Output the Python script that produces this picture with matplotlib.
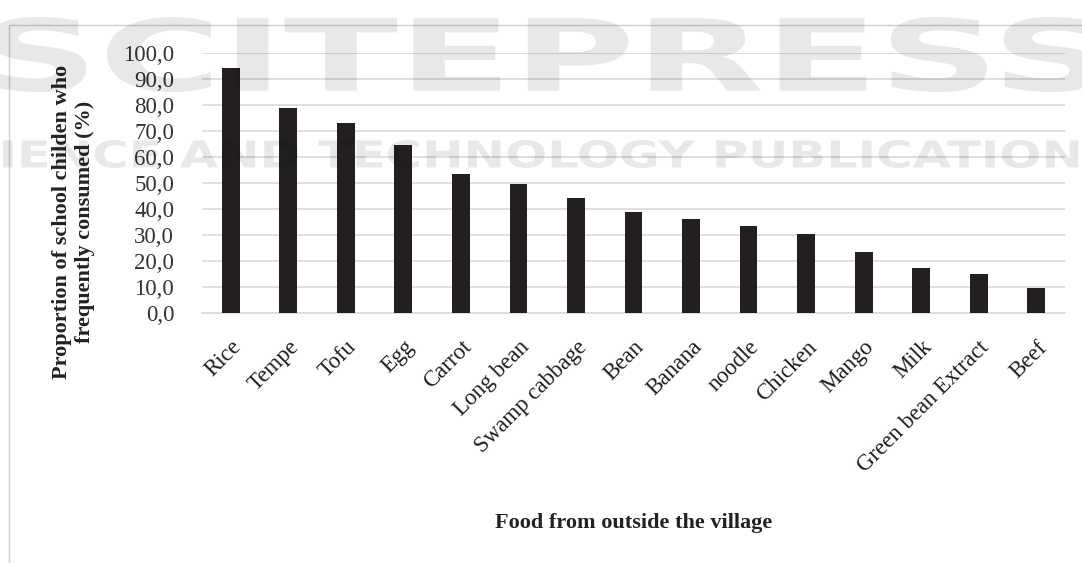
import matplotlib
matplotlib.use("Agg")
import matplotlib.pyplot as plt
from matplotlib.patches import Rectangle, PathPatch
from matplotlib.textpath import TextPath
from matplotlib.font_manager import FontProperties
from matplotlib.transforms import Affine2D, IdentityTransform
from matplotlib.ticker import FuncFormatter

# data
foods = ["Rice", "Tempe", "Tofu", "Egg", "Carrot", "Long bean", "Swamp cabbage",
         "Bean", "Banana", "noodle", "Chicken", "Mango", "Milk",
         "Green bean Extract", "Beef"]
proportion = [94.2, 79.0, 73.0, 64.7, 53.7, 49.5, 44.3, 39.0, 36.0, 33.4,
              30.5, 23.6, 17.2, 15.1, 9.7]
y_ticks = list(range(0, 101, 10))

plt.rcParams['font.family'] = ['Liberation Serif', 'DejaVu Serif']

fig = plt.figure(figsize=(10.82, 5.63), dpi=100)
ax = fig.add_axes([0.1867, 0.444, 0.7976, 0.4615])
ax.set_facecolor('none')

x = range(len(foods))
ax.bar(x, proportion, width=0.31, color='#231f20', zorder=3)

ax.set_xlim(-0.5, len(foods) - 0.5)
ax.set_ylim(0, 100)
ax.set_yticks(y_ticks)
ax.yaxis.set_major_formatter(FuncFormatter(lambda v, p: "{0:.1f}".format(v).replace('.', ',')))
ax.grid(axis='y', color='#d9d9d9', linewidth=1.2, zorder=0)
for s in ['top', 'right', 'left']:
    ax.spines[s].set_visible(False)
ax.spines['bottom'].set_color('#d9d9d9')
ax.spines['bottom'].set_linewidth(1.2)

ax.tick_params(axis='y', length=0, pad=20, labelsize=16.5, labelcolor='#333333')
ax.tick_params(axis='x', length=0, pad=17)
ax.set_xticks(list(x))
ax.set_xticklabels(foods, rotation=45, ha='right', rotation_mode='anchor',
                   fontsize=16.5, color='#1e1e1e')

ax.set_ylabel("Proportion of school childen who\nfrequently consumed (%)",
              fontsize=16, fontweight='bold', color='#222222', linespacing=1.2)
ax.yaxis.label.set_va('center')
ax.yaxis.label.set_ha('center')
ax.yaxis.set_label_coords(-0.149, 0.35)
ax.set_xlabel("Food from outside the village", fontsize=16, fontweight='bold',
              color='#222222')
ax.xaxis.label.set_va('center')
ax.xaxis.set_label_coords(0.5, -0.81)

# chart border
fig.patches.append(Rectangle((0.008, -0.1), 1.2, 1.055, transform=fig.transFigure,
                             fill=False, edgecolor='#cfcfcf', linewidth=1.0))


# publisher watermark, stretched over the top of the figure
def watermark(text, x0, x1, y0, y1):
    tp = TextPath((0, 0), text, size=100,
                  prop=FontProperties(family='DejaVu Sans', weight='bold'))
    ext = tp.get_extents()
    tr = Affine2D().translate(-ext.x0, -ext.y0).scale(
        (x1 - x0) / ext.width, (y1 - y0) / ext.height).translate(x0, y0)
    patch = PathPatch(tr.transform_path(tp), facecolor='black', edgecolor='none',
                      alpha=0.09, transform=IdentityTransform(), zorder=10)
    fig.patches.append(patch)


watermark("SCITEPRESS", -10, 1100, 471, 546)
watermark("SCIENCE AND TECHNOLOGY PUBLICATIONS", -70, 1115, 395, 423)

fig.savefig("out.png", dpi=100)
